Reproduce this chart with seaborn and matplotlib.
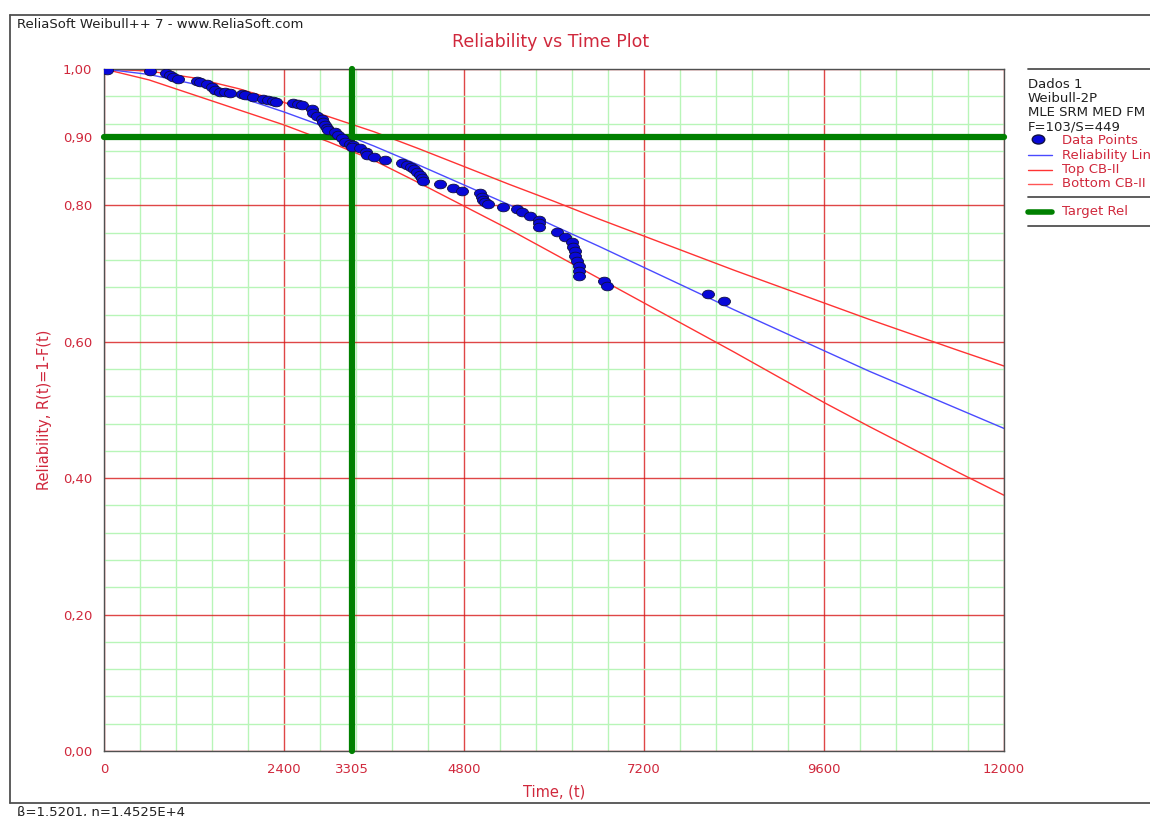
import numpy as np
import pandas as pd
import matplotlib
matplotlib.use("Agg")
import matplotlib.pyplot as plt
from matplotlib.path import Path
from matplotlib.transforms import Affine2D
from matplotlib.lines import Line2D
import seaborn as sns

# ---- data ----
beta_txt = "β=1.5201, η=1.4525E+4"
target_t = 3305
target_r = 0.90

# reliability line and confidence bounds (read at the time grid)
curve_t = [0, 600, 1200, 1800, 2400, 3000, 3600, 4200, 4800, 5400, 6000, 6600,
           7200, 7800, 8400, 9000, 9600, 10200, 10800, 11400, 12000]
rel_line = [1.0, 0.992, 0.978, 0.959, 0.937, 0.913, 0.887, 0.859, 0.830, 0.801,
            0.770, 0.740, 0.709, 0.678, 0.647, 0.617, 0.587, 0.557, 0.529, 0.501, 0.473]
top_cb = [1.0, 0.997, 0.987, 0.971, 0.951, 0.930, 0.908, 0.883, 0.857, 0.831,
          0.806, 0.780, 0.755, 0.730, 0.705, 0.681, 0.657, 0.633, 0.610, 0.587, 0.5645]
bot_cb = [1.0, 0.984, 0.962, 0.940, 0.918, 0.893, 0.866, 0.833, 0.799, 0.765,
          0.729, 0.693, 0.657, 0.621, 0.585, 0.548, 0.511, 0.476, 0.442, 0.408, 0.375]

pts_t = [40, 613, 827, 880, 920, 987, 1240, 1280, 1373, 1440, 1480, 1547, 1613, 1680,
         1840, 1880, 1987, 2120, 2187, 2253, 2293, 2520, 2587, 2640, 2773, 2787, 2840,
         2907, 2920, 2947, 2973, 2987, 3080, 3120, 3173, 3213, 3280, 3320, 3307, 3413,
         3493, 3507, 3600, 3747, 3973, 4040, 4093, 4133, 4173, 4213, 4240, 4253, 4480,
         4653, 4773, 5013, 5040, 5053, 5080, 5120, 5320, 5507, 5573, 5680, 5800, 5800,
         5800, 6040, 6147, 6240, 6253, 6280, 6280, 6307, 6333, 6333, 6333, 6667, 6707,
         8053, 8267]
pts_r = [0.999, 0.997, 0.994, 0.991, 0.988, 0.985, 0.982, 0.981, 0.978, 0.974, 0.969,
         0.966, 0.966, 0.965, 0.963, 0.962, 0.959, 0.956, 0.955, 0.953, 0.952, 0.950,
         0.949, 0.947, 0.941, 0.935, 0.931, 0.927, 0.922, 0.918, 0.913, 0.910, 0.908,
         0.903, 0.899, 0.893, 0.890, 0.889, 0.886, 0.884, 0.878, 0.874, 0.871, 0.867,
         0.862, 0.859, 0.856, 0.853, 0.849, 0.845, 0.840, 0.836, 0.831, 0.826, 0.821,
         0.818, 0.812, 0.808, 0.805, 0.802, 0.798, 0.795, 0.790, 0.784, 0.779, 0.774,
         0.768, 0.761, 0.754, 0.746, 0.739, 0.733, 0.726, 0.718, 0.711, 0.704, 0.696,
         0.689, 0.682, 0.670, 0.660]

x_ticks = [0, 2400, 3305, 4800, 7200, 9600, 12000]
y_ticks = [0.0, 0.2, 0.4, 0.6, 0.8, 0.9, 1.0]

df_pts = pd.DataFrame({"t": pts_t, "R": pts_r})
df_curves = pd.DataFrame({"t": curve_t, "rel": rel_line, "top": top_cb, "bot": bot_cb})

red_txt = "#d0283c"
sns.set_style("white")
plt.rcParams['font.family'] = ['DejaVu Sans']

fig = plt.figure(figsize=(11.5, 8.16), dpi=100)
W, H = 1150, 816
ax = fig.add_axes([104 / W, 1 - 751 / H, 900 / W, 682 / H])

# grid
ax.set_xticks(np.arange(0, 12001, 480), minor=True)
ax.set_yticks(np.arange(0, 1.001, 0.04), minor=True)
ax.grid(which='minor', color='#b8f5b8', lw=1, zorder=0)
ax.set_xticks([0, 2400, 4800, 7200, 9600, 12000])
ax.set_yticks([0, 0.2, 0.4, 0.6, 0.8, 1.0])
ax.grid(which='major', color='#d81818', lw=1, alpha=0.8, zorder=0.5)
ax.set_axisbelow(True)

# curves
sns.lineplot(data=df_curves, x="t", y="top", ax=ax, color='#ff3333', lw=1, sort=False, estimator=None, zorder=2)
sns.lineplot(data=df_curves, x="t", y="bot", ax=ax, color='#ff3333', lw=1, sort=False, estimator=None, zorder=2)
sns.lineplot(data=df_curves, x="t", y="rel", ax=ax, color='#4a4aff', lw=1, sort=False, estimator=None, zorder=2)

# target lines
ax.axhline(target_r, color='#008000', lw=4.5, zorder=3, clip_on=False)
ax.axvline(target_t, color='#008000', lw=4.5, zorder=3, clip_on=False)

# data points (ellipses)
ell = Path.unit_circle().transformed(Affine2D().scale(1.0, 0.72))
sns.scatterplot(data=df_pts, x="t", y="R", ax=ax, marker=ell, s=75,
                color='#0808d8', edgecolor='#101040', linewidth=0.6, zorder=4)

ax.set_xlim(0, 12000)
ax.set_ylim(0, 1.0)
ax.set_xticks(x_ticks)
ax.set_xticklabels([str(v) for v in x_ticks])
ax.set_yticks(y_ticks)
ax.set_yticklabels([f"{v:.2f}".replace('.', ',') for v in y_ticks])
ax.tick_params(which='major', direction='out', length=5, width=1, color='#c04040',
               labelcolor=red_txt, labelsize=9.5)
ax.tick_params(which='minor', length=0)
for s in ax.spines.values():
    s.set_color('#505050')
    s.set_linewidth(1)
ax.set_xlabel("Time, (t)", color=red_txt, fontsize=10.5, labelpad=6)
ax.set_ylabel("Reliability, R(t)=1-F(t)", color=red_txt, fontsize=10.5, labelpad=8)

# frame and texts
def fx(px):
    return px / W

def fy(py):
    return 1 - py / H

frame_kw = dict(color='#505050', lw=1.3)
fig.add_artist(Line2D([fx(10), 1], [fy(15), fy(15)], **frame_kw))
fig.add_artist(Line2D([fx(10), fx(10)], [fy(15), fy(803)], **frame_kw))
fig.add_artist(Line2D([fx(10), 1], [fy(803), fy(803)], **frame_kw))

fig.text(fx(17), fy(24), "ReliaSoft Weibull++ 7 - www.ReliaSoft.com", fontsize=9.5,
         color='#202020', va='center')
fig.text(fx(551), fy(42), "Reliability vs Time Plot", fontsize=12.5, color=red_txt,
         ha='center', va='center')
fig.text(fx(17), fy(806), beta_txt, fontsize=9.5, color='#202020', va='top')

# legend block
sep_kw = dict(color='#505050', lw=1.3)
for py in [69, 197, 226]:
    fig.add_artist(Line2D([fx(1028), 1], [fy(py), fy(py)], **sep_kw))
for i, txt in enumerate(["Dados 1", "Weibull-2P", "MLE SRM MED FM", "F=103/S=449"]):
    fig.text(fx(1028), fy(84 + 14.3 * i), txt, fontsize=9.5, color='#202020', va='center')
leg_items = [("Data Points", None), ("Reliability Line", '#4a4aff'),
             ("Top CB-II", '#ff3333'), ("Bottom CB-II", '#ff5555')]
for i, (txt, col) in enumerate(leg_items):
    py = 141 + 14.3 * i
    if col is None:
        fig.add_artist(Line2D([fx(1038)], [fy(py - 2)], marker=ell, markersize=9,
                              color='#0808d8', markeredgecolor='#101040', lw=0))
    else:
        fig.add_artist(Line2D([fx(1028), fx(1052)], [fy(py), fy(py)], color=col, lw=1))
    fig.text(fx(1062), fy(py), txt, fontsize=9.5, color=red_txt, va='center')
fig.add_artist(Line2D([fx(1028), fx(1052)], [fy(212), fy(212)], color='#008000', lw=4))
fig.text(fx(1062), fy(212), "Target Rel", fontsize=9.5, color=red_txt, va='center')

fig.savefig("out.png", dpi=100)
